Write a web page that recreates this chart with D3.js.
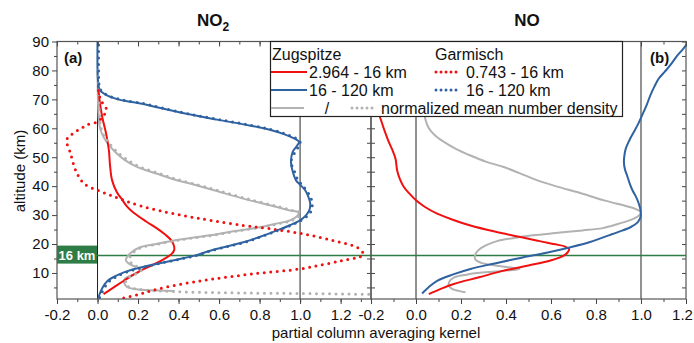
<!DOCTYPE html>
<html>
<head>
<meta charset="utf-8">
<script src="https://cdn.jsdelivr.net/npm/d3@7"></script>
<style>
body { margin: 0; background: #fff; }
svg { font-family: "Liberation Sans", Arial, sans-serif; }
</style>
</head>
<body>
<script>
// partial column averaging kernels, [altitude km, kernel value]
var no2_zug_low = [[2.7,0.03],[5,0.08],[7.3,0.13],[9.5,0.18],[11.4,0.23],[13.2,0.285],[14.9,0.33],[16.5,0.365],[17.8,0.378],[19.2,0.378],[21.2,0.365],[23.2,0.335],[25.3,0.295],[27.8,0.24],[31,0.175],[33,0.145],[35.5,0.12],[38,0.095],[42,0.072],[47,0.062],[52.5,0.056],[58.3,0.042],[64,0.023],[69.8,0.01],[75,0.003]];
var no2_gar_low = [[0.5,0.1],[1,0.113],[2.5,0.2],[4.4,0.295],[6.7,0.459],[7.9,0.57],[9.7,0.77],[11.4,1.0],[13,1.12],[14.3,1.21],[15.3,1.28],[16,1.31],[17,1.31],[18.9,1.28],[21.2,1.164],[23.5,1.016],[25.3,0.85],[26.4,0.72],[28.2,0.556],[29.5,0.45],[31,0.34],[33,0.22],[35.1,0.13],[37,0.06],[38.6,0],[40.9,-0.067],[45.5,-0.108],[51.3,-0.133],[56,-0.152],[58.3,-0.12],[60,-0.08],[61.2,-0.05],[62.3,0],[64,0.025],[66.4,0.045],[68.1,0.03],[70,0.015],[72,0.007],[74,0.002]];
var no2_zug_high = [[1.5,0.005],[3,0.012],[5,0.025],[7.3,0.05],[8.8,0.085],[10.2,0.13],[11.7,0.2],[13.2,0.295],[14.6,0.39],[16,0.48],[17.7,0.556],[20.6,0.72],[22.7,0.81],[24.7,0.885],[26.5,0.95],[28.2,1.0],[30,1.03],[31.6,1.045],[34,1.05],[36.5,1.04],[38.6,1.025],[40.5,1.0],[42,0.98],[45.5,0.962],[48.3,0.955],[51.8,0.963],[54,0.985],[55.3,0.995],[56.5,0.97],[58,0.92],[59.5,0.85],[61,0.75],[63,0.59],[65,0.44],[67,0.31],[68.5,0.22],[70,0.1],[71.6,0.04],[73.3,0.01],[76,0.003],[80,0],[90,0]];
var no2_gar_high = [[1.5,0.01],[3,0.02],[5,0.035],[7.3,0.06],[8.8,0.095],[10.2,0.14],[11.7,0.21],[13.2,0.3],[14.6,0.395],[16,0.485],[17.7,0.56],[20.6,0.725],[22.7,0.815],[24.7,0.89],[26.5,0.955],[28.2,1.005],[30,1.04],[31.6,1.055],[34,1.06],[36.5,1.05],[38.6,1.03],[40.5,1.01],[42,0.99],[45.5,0.97],[48.3,0.955],[51.8,0.975],[54,0.995],[55.3,1.0],[56.5,0.98],[58,0.93],[59.5,0.86],[61,0.76],[63,0.6],[65,0.45],[67,0.32],[68.5,0.23],[70,0.11],[71.6,0.045],[73.3,0.015],[76,0.006],[80,0.005],[90,0.005]];
var no2_zug_dens = [[80,0],[70,0.002],[65,0.005],[62,0.008],[59.4,0.015],[57,0.03],[54.8,0.05],[52,0.085],[49,0.135],[46.5,0.2],[44.4,0.29],[42.5,0.37],[40.9,0.457],[38.6,0.575],[35.7,0.72],[32.8,0.885],[31.6,0.95],[31,0.99],[30,0.99],[28.2,0.95],[27,0.88],[25.8,0.8],[24.5,0.68],[23,0.556],[22,0.45],[21.2,0.377],[20,0.29],[18.9,0.21],[17,0.165],[15.4,0.145],[14.3,0.14],[13,0.16],[12,0.19],[10.8,0.21],[9.5,0.18],[8.3,0.14],[7.3,0.13],[6,0.135],[5,0.15],[4.3,0.2],[3.9,0.3],[3.8,0.38]];
var no2_gar_dens = [[80,0.005],[70,0.006],[65,0.01],[62,0.013],[59.4,0.02],[57,0.035],[54.8,0.058],[52,0.095],[49,0.15],[46.5,0.215],[44.4,0.305],[42.5,0.385],[40.9,0.47],[38.6,0.59],[35.7,0.735],[32.8,0.9],[31.6,0.96],[31,1.0],[30,1.0],[28.2,0.96],[27,0.89],[25.8,0.81],[24.5,0.69],[23,0.565],[22,0.46],[21.2,0.385],[20,0.3],[18.9,0.22],[17,0.175],[15.4,0.16],[14.3,0.158],[13,0.175],[12,0.2],[10.8,0.215],[9.5,0.185],[8.3,0.15],[7.3,0.14],[6,0.14],[5,0.16],[4.3,0.21],[3.8,0.3],[3.4,0.45],[3.1,0.7],[2.9,1.0],[2.6,1.35],[2.5,1.4]];

var no_zug_high = [[2.9,0.027],[5,0.055],[7.3,0.094],[9.5,0.165],[11.4,0.242],[13.3,0.35],[15.2,0.464],[17,0.58],[18.9,0.687],[20.6,0.77],[22.4,0.835],[24.2,0.9],[25.8,0.953],[27.5,0.985],[29.3,0.998],[31.6,0.998],[34,0.99],[36.3,0.978],[38.6,0.962],[40.9,0.95],[43.7,0.938],[46,0.928],[48.3,0.924],[50.5,0.926],[52.9,0.932],[55.8,0.948],[58.7,0.968],[61.6,0.988],[64.5,1.005],[68,1.025],[71.5,1.042],[74.5,1.06],[77.2,1.079],[79.5,1.105],[81.9,1.131],[85,1.16],[87.7,1.19],[90,1.21]];
var no_zug_low = [[2.7,0.057],[4.5,0.11],[6.2,0.168],[8.5,0.28],[10.8,0.39],[12.6,0.5],[14.3,0.598],[16,0.657],[17.2,0.675],[18.3,0.68],[19.2,0.66],[19.8,0.627],[21,0.55],[22.4,0.464],[24.3,0.35],[26.4,0.242],[28.5,0.16],[30.5,0.094],[32.8,0.04],[35.1,0],[37.5,-0.03],[39.7,-0.054],[42.5,-0.072],[45.5,-0.084],[49.5,-0.091],[52.5,-0.105],[55.3,-0.121],[59.9,-0.143],[63.4,-0.158],[67,-0.175],[72,-0.2]];
var no_zug_dens = [[67,0.035],[63,0.042],[60,0.057],[57.5,0.085],[55.3,0.124],[53,0.175],[50.6,0.242],[48.5,0.31],[46.6,0.39],[44.5,0.46],[42,0.54],[40,0.62],[37.4,0.74],[35,0.84],[33,0.94],[32,0.98],[31,1.0],[29.8,0.99],[28.5,0.96],[27,0.9],[25.5,0.83],[24.7,0.74],[23.8,0.62],[23,0.52],[22,0.43],[21,0.36],[19.5,0.31],[17.7,0.275],[16,0.262],[14.5,0.265],[13.5,0.29],[12.5,0.36],[11.8,0.43],[11.4,0.46],[11,0.43],[10.3,0.32],[9.5,0.23],[8.5,0.17],[7,0.148],[5.6,0.146],[4.5,0.16],[3.8,0.19],[3.3,0.22]];

var x_ticks = [-0.2, 0, 0.2, 0.4, 0.6, 0.8, 1.0, 1.2];
var y_ticks = [10, 20, 30, 40, 50, 60, 70, 80, 90];
var split_alt = 16;

var red = '#f01010';
var blue = '#2f62a0';
var gray = '#b2b2b2';
var green = '#2e7d46';

var width = 694, height = 343;
var svg = d3.select("body").append("svg").attr("width", width).attr("height", height);

var y = d3.scaleLinear().domain([1, 90]).range([299, 41.5]);
var xa = d3.scaleLinear().domain([-0.2, 1.35]).range([57, 371]);
var xb = d3.scaleLinear().domain([-0.2, 1.2]).range([371, 686]);

var defs = svg.append("defs");
defs.append("clipPath").attr("id", "clipa").append("rect")
	.attr("x", 57).attr("y", 41.5).attr("width", 314).attr("height", 257.5);
defs.append("clipPath").attr("id", "clipb").append("rect")
	.attr("x", 371).attr("y", 41.5).attr("width", 315).attr("height", 257.5);

function draw_panel(x, clip, curves) {
	var g = svg.append("g").attr("clip-path", "url(#" + clip + ")");
	// reference lines at 0 and 1
	g.append("line").attr("x1", x(0)).attr("x2", x(0)).attr("y1", y(90)).attr("y2", y(1))
		.attr("stroke", "#222").attr("stroke-width", 1);
	g.append("line").attr("x1", x(1)).attr("x2", x(1)).attr("y1", y(90)).attr("y2", y(1))
		.attr("stroke", "#777").attr("stroke-width", 1.6);
	g.append("line").attr("x1", x.range()[0]).attr("x2", x.range()[1]).attr("y1", y(split_alt)).attr("y2", y(split_alt))
		.attr("stroke", green).attr("stroke-width", 1.5);
	curves.forEach(function(c) {
		var line = d3.line()
			.x(function(d) { return x(d[1]); })
			.y(function(d) { return y(d[0]); })
			.curve(d3.curveCatmullRom.alpha(0.5));
		var p = g.append("path").datum(c.data).attr("d", line)
			.attr("fill", "none").attr("stroke", c.color);
		if (c.dotted) {
			p.attr("stroke-width", 3).attr("stroke-dasharray", "0 6.5").attr("stroke-linecap", "round");
		} else {
			p.attr("stroke-width", 2);
		}
	});
}

draw_panel(xa, "clipa", [
	{data: no2_zug_dens, color: gray},
	{data: no2_zug_low, color: red},
	{data: no2_zug_high, color: blue},
	{data: no2_gar_dens, color: gray, dotted: true},
	{data: no2_gar_low, color: red, dotted: true},
	{data: no2_gar_high, color: blue, dotted: true}
]);
draw_panel(xb, "clipb", [
	{data: no_zug_dens, color: gray},
	{data: no_zug_low, color: red},
	{data: no_zug_high, color: blue}
]);

// axes
function minor_x(x) {
	var t = [];
	for (var i = -2; i <= 13; i++) { var v = i / 10; if (v >= x.domain()[0] - 1e-9 && v <= x.domain()[1] + 1e-9) t.push(v); }
	return t;
}
var y_minor = [5, 15, 25, 35, 45, 55, 65, 75, 85];

function style_axis(sel) {
	sel.select(".domain").remove();
	sel.selectAll("line").attr("stroke", "#444");
	sel.selectAll("text").attr("fill", "#111").style("font-size", "15px")
		.style("font-family", "'Liberation Sans', Arial, sans-serif");
}

[xa, xb].forEach(function(x, k) {
	var b = svg.append("g").attr("transform", "translate(0," + y(1) + ")")
		.call(d3.axisBottom(x).tickValues(minor_x(x)).tickSize(3).tickFormat(""));
	style_axis(b);
	var bm = svg.append("g").attr("transform", "translate(0," + y(1) + ")")
		.call(d3.axisBottom(x).tickValues(x_ticks).tickSize(5).tickPadding(5).tickFormat(function(d) { return d.toFixed(1); }));
	style_axis(bm);
	if (k == 1) {
		// last label sits on the page edge
		bm.selectAll("text").filter(function(d) { return d == 1.2; }).attr("dx", -4);
	}
	var t = svg.append("g").attr("transform", "translate(0," + y(90) + ")")
		.call(d3.axisTop(x).tickValues(minor_x(x)).tickSize(-3).tickFormat(""));
	style_axis(t);
	var tm = svg.append("g").attr("transform", "translate(0," + y(90) + ")")
		.call(d3.axisTop(x).tickValues(x_ticks).tickSize(-5).tickFormat(""));
	style_axis(tm);
	// inward side ticks
	var x0 = x.range()[0], x1 = x.range()[1];
	if (k == 1) {
		var l = svg.append("g").attr("transform", "translate(" + x0 + ",0)")
			.call(d3.axisLeft(y).tickValues(y_ticks.concat(y_minor)).tickSize(-4).tickFormat(""));
		style_axis(l);
	}
	var r = svg.append("g").attr("transform", "translate(" + x1 + ",0)")
		.call(d3.axisRight(y).tickValues(y_ticks.concat(y_minor)).tickSize(-4).tickFormat(""));
	style_axis(r);
	svg.append("rect").attr("x", x0).attr("y", y(90)).attr("width", x1 - x0).attr("height", y(1) - y(90))
		.attr("fill", "none").attr("stroke", "#555").attr("stroke-width", 1.2);
});

var yl = svg.append("g").attr("transform", "translate(" + xa.range()[0] + ",0)")
	.call(d3.axisLeft(y).tickValues(y_ticks).tickSize(5).tickPadding(3).tickFormat(function(d) { return d; }));
style_axis(yl);
var ylm = svg.append("g").attr("transform", "translate(" + xa.range()[0] + ",0)")
	.call(d3.axisLeft(y).tickValues(y_minor).tickSize(3).tickFormat(""));
style_axis(ylm);

// 16 km marker
svg.append("rect").attr("x", 57).attr("y", y(split_alt) - 10).attr("width", 40).attr("height", 18)
	.attr("fill", green);
svg.append("text").attr("x", 77).attr("y", y(split_alt) + 4).attr("text-anchor", "middle")
	.attr("fill", "#fff").attr("font-weight", "bold").attr("font-size", "13px").text("16 km");

// legend
var lg = svg.append("g");
lg.append("rect").attr("x", 270.5).attr("y", 41.5).attr("width", 352).attr("height", 75)
	.attr("fill", "#fff").attr("stroke", "#222").attr("stroke-width", 1.2);
var rows = [54, 72, 90, 108];
var legend_items = [
	{x: 272, row: 0, text: "Zugspitze"},
	{x: 435, row: 0, text: "Garmisch"},
	{x: 309, row: 1, text: "2.964 - 16 km", color: red, lx: 271},
	{x: 309, row: 2, text: "16 - 120 km", color: blue, lx: 271},
	{x: 466, row: 1, text: "0.743 - 16 km", color: red, lx: 436, dotted: true},
	{x: 466, row: 2, text: "16 - 120 km", color: blue, lx: 436, dotted: true},
	{x: 381, row: 3, text: "normalized mean number density", color: gray, lx: 352, dotted: true}
];
legend_items.forEach(function(it) {
	lg.append("text").attr("x", it.x).attr("y", rows[it.row] + 5.5).attr("font-size", "16px")
		.attr("fill", "#111").text(it.text);
	if (it.color) {
		var len = it.dotted ? 25 : 36;
		var l = lg.append("line").attr("x1", it.lx).attr("x2", it.lx + len)
			.attr("y1", rows[it.row]).attr("y2", rows[it.row]).attr("stroke", it.color);
		if (it.dotted) l.attr("stroke-width", 3).attr("stroke-dasharray", "0 5").attr("stroke-linecap", "round");
		else l.attr("stroke-width", 2);
	}
});
lg.append("line").attr("x1", 271).attr("x2", 304).attr("y1", rows[3]).attr("y2", rows[3])
	.attr("stroke", gray).attr("stroke-width", 2);
lg.append("text").attr("x", 327).attr("y", rows[3] + 5.5).attr("font-size", "16px")
	.attr("text-anchor", "middle").attr("fill", "#111").text("/");

// titles and labels
var t1 = svg.append("text").attr("x", 213).attr("y", 26).attr("text-anchor", "middle")
	.attr("font-weight", "bold").attr("font-size", "17px").attr("fill", "#111");
t1.append("tspan").text("NO");
t1.append("tspan").attr("dy", 5).attr("font-size", "12px").text("2");
svg.append("text").attr("x", 527).attr("y", 26).attr("text-anchor", "middle")
	.attr("font-weight", "bold").attr("font-size", "17px").attr("fill", "#111").text("NO");

svg.append("text").attr("x", 64).attr("y", 63).attr("font-weight", "bold").attr("font-size", "15px")
	.attr("fill", "#111").text("(a)");
svg.append("text").attr("x", 650).attr("y", 63).attr("font-weight", "bold").attr("font-size", "15px")
	.attr("fill", "#111").text("(b)");

svg.append("text").attr("x", 376).attr("y", 338).attr("text-anchor", "middle").attr("font-size", "15px")
	.attr("fill", "#111").text("partial column averaging kernel");
svg.append("text").attr("transform", "translate(25,171) rotate(-90)").attr("text-anchor", "middle")
	.attr("font-size", "15px").attr("fill", "#111").text("altitude (km)");
</script>
</body>
</html>
